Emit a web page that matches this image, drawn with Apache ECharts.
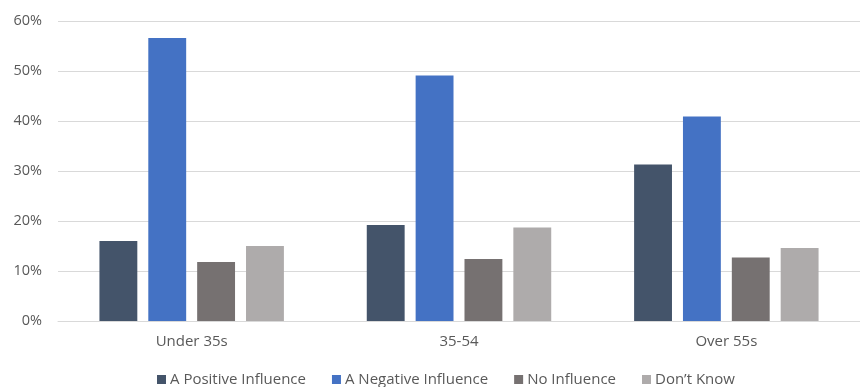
<!DOCTYPE html>
<html>
<head>
<meta charset="utf-8">
<script src="https://cdn.jsdelivr.net/npm/echarts@6/dist/echarts.min.js"></script>
<style>
  html, body { margin: 0; padding: 0; background: #fff; }
  #chart { width: 860px; height: 387px; }
</style>
</head>
<body>
<div id="chart"></div>
<script>
// Age groups on the category axis
const categories = ['Under 35s', '35-54', 'Over 55s'];

// Share of respondents (%) per answer
const positiveInfluence = [16.0, 19.2, 31.3];
const negativeInfluence = [56.6, 49.1, 40.9];
const noInfluence = [11.8, 12.4, 12.7];
const dontKnow = [15.0, 18.7, 14.6];

const seriesNames = ['A Positive Influence', 'A Negative Influence', 'No Influence', 'Don\u2019t Know'];
const seriesData = [positiveInfluence, negativeInfluence, noInfluence, dontKnow];
const seriesColors = ['#44546A', '#4472C4', '#767171', '#AEABAB'];

// Value axis ticks
const yMin = 0, yMax = 60, yStep = 10;

const font = '"Open Sans", "Noto Sans", sans-serif';
const chart = echarts.init(document.getElementById('chart'));

chart.setOption({
  animation: false,
  backgroundColor: '#ffffff',
  textStyle: { fontFamily: font },
  grid: { left: 58, right: 0, top: 21, bottom: 66, containLabel: false },
  legend: {
    data: seriesNames,
    left: 157,
    bottom: 0,
    padding: 0,
    icon: 'rect',
    itemWidth: 9,
    itemHeight: 9,
    itemGap: 26,
    textStyle: { color: '#595959', fontSize: 15, fontFamily: font, padding: [0, 0, 0, -1] }
  },
  xAxis: {
    type: 'category',
    data: categories,
    axisLine: { lineStyle: { color: '#D9D9D9', width: 1 } },
    axisTick: { show: false },
    axisLabel: { color: '#595959', fontSize: 15, margin: 13 }
  },
  yAxis: {
    type: 'value',
    min: yMin,
    max: yMax,
    interval: yStep,
    axisLine: { show: false },
    axisTick: { show: false },
    splitLine: { lineStyle: { color: '#D9D9D9', width: 1 } },
    axisLabel: { color: '#595959', fontSize: 14.5, margin: 16, formatter: v => v + '%' }
  },
  series: seriesNames.map((name, i) => ({
    name,
    type: 'bar',
    data: seriesData[i],
    barGap: '29%',
    barCategoryGap: '31%',
    itemStyle: { color: seriesColors[i] }
  }))
});
</script>
</body>
</html>
